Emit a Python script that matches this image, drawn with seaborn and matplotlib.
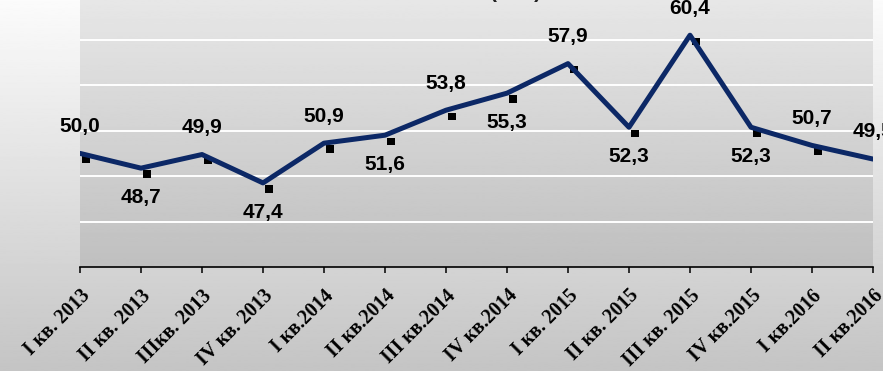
import numpy as np
import pandas as pd
import matplotlib
matplotlib.use("Agg")
import matplotlib.pyplot as plt
from matplotlib import transforms
import seaborn as sns

# Quarterly share values (%)
quarters = ["I кв. 2013", "II кв. 2013", "IIIкв. 2013", "IV кв. 2013",
            "I кв.2014", "II кв.2014", "III кв.2014", "IV кв.2014",
            "I кв. 2015", "II кв. 2015", "III кв. 2015", "IV кв.2015",
            "I кв.2016", "II кв.2016"]
share = [50.0, 48.7, 49.9, 47.4, 50.9, 51.6, 53.8,
         55.3, 57.9, 52.3, 60.4, 52.3, 50.7, 49.5]
# +1: value label above the point, -1: below
label_side = [1, -1, 1, -1, 1, -1, 1, -1, 1, -1, 1, -1, 1, 1]

W, H = 883, 371
sns.set_theme(style="white")
fig = plt.figure(figsize=(W / 100, H / 100), dpi=100)

# figure background: light-to-grey vertical gradient
bg = fig.add_axes([0, 0, 1, 1], zorder=-10)
bg.imshow(np.linspace(0.985, 0.77, 256).reshape(-1, 1), cmap="gray",
          vmin=0, vmax=1, aspect="auto", extent=[0, 1, 0, 1])
bg.axis("off")

ax = fig.add_axes([80 / W, 104 / H, 793 / W, 267 / H])
ax.patch.set_alpha(0)
ax.imshow(np.linspace(0.905, 0.75, 256).reshape(-1, 1), cmap="gray",
          vmin=0, vmax=1, aspect="auto", extent=[0, 1, 0, 1],
          transform=ax.transAxes, zorder=0)

df = pd.DataFrame({"pos": np.arange(len(share)), "share": share})

# small square "shadow" markers shifted down-right of each vertex
shadow = transforms.offset_copy(ax.transData, fig=fig, x=6, y=-6, units="dots")
sns.scatterplot(data=df, x="pos", y="share", marker="s", s=28, color="black",
                edgecolor="none", linewidth=0, transform=shadow, ax=ax,
                zorder=3, legend=False)
sns.lineplot(data=df, x="pos", y="share", color="#0c2866", linewidth=3.6,
             ax=ax, zorder=4, legend=False)

ax.set_xlim(0, len(share) - 1)
ax.set_ylim(40, 63.5)
ax.set_yticks([44, 48, 52, 56, 60])
ax.set_axisbelow(True)
ax.grid(axis="y", color="white", linewidth=1.4)
ax.grid(axis="x", visible=False)
ax.tick_params(axis="y", left=False, labelleft=False)
for side in ["top", "right", "left"]:
    ax.spines[side].set_visible(False)
ax.spines["bottom"].set_color("black")
ax.spines["bottom"].set_linewidth(1.2)

ax.set_xticks(df["pos"])
ax.set_xticklabels(quarters, rotation=45, ha="right", rotation_mode="anchor",
                   fontfamily="Liberation Serif", fontweight="bold",
                   fontsize=14.2, color="black")
ax.tick_params(axis="x", bottom=True, direction="out", length=4.5,
               width=1.1, color="black", pad=9)
ax.set_xlabel("")
ax.set_ylabel("")

for i, (v, side) in enumerate(zip(share, label_side)):
    ax.annotate(f"{v:.1f}".replace(".", ","), (i, v),
                xytext=(0, 19.5 if side > 0 else -21),
                textcoords="offset points", ha="center", va="center",
                fontsize=15, fontweight="bold", family="Liberation Sans",
                color="black", annotation_clip=False, zorder=5)

fig.text(516 / W, (H + 2.5) / H, "(в %)", ha="center", va="baseline",
         fontsize=15, fontweight="bold", family="Liberation Sans",
         color="#222222")

fig.savefig("out.png", dpi=100)
